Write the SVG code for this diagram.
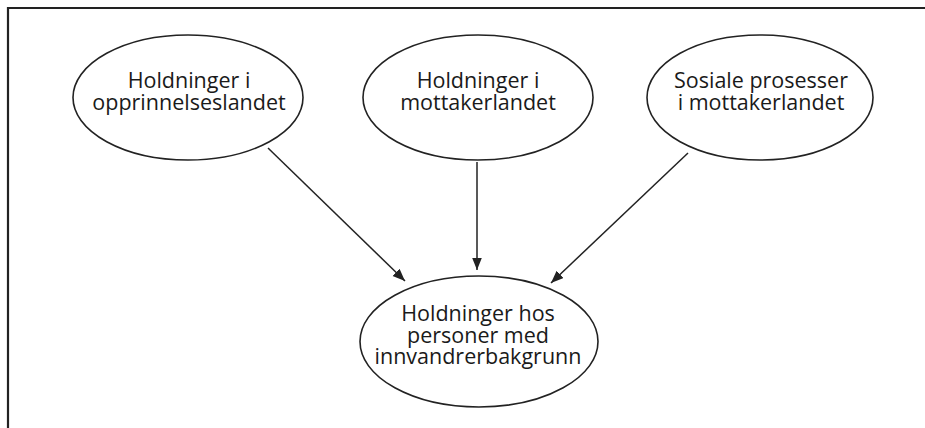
<svg xmlns="http://www.w3.org/2000/svg" width="925" height="428" viewBox="0 0 925 428">
<style>
.node ellipse{fill:#fff;stroke:#222;stroke-width:1.6}
.node text{font-family:"Open Sans","Noto Sans","Liberation Sans",sans-serif;font-size:21.5px;font-weight:500;fill:#1a1a1a;text-anchor:middle}
.edge{stroke:#222;stroke-width:1.5;fill:none;marker-end:url(#ah)}
</style>
<defs>
<marker id="ah" markerUnits="userSpaceOnUse" markerWidth="13" markerHeight="11" refX="12.5" refY="5" orient="auto">
<path d="M0,0 L12.5,5 L0,10 z" fill="#222"/>
</marker>
</defs>
<rect width="925" height="428" fill="#fff"/>
<path d="M8,428 V8 H925" fill="none" stroke="#222" stroke-width="2.2"/>
<g id="n1" class="node">
<ellipse cx="188" cy="97.5" rx="115" ry="62.5"/>
<text x="189" y="88">Holdninger i</text>
<text x="189" y="110">opprinnelseslandet</text>
</g>
<g id="n2" class="node">
<ellipse cx="478" cy="97.5" rx="115" ry="62.5"/>
<text x="478" y="88">Holdninger i</text>
<text x="478" y="110">mottakerlandet</text>
</g>
<g id="n3" class="node">
<ellipse cx="760" cy="97.5" rx="113" ry="62.5"/>
<text x="761" y="88">Sosiale prosesser</text>
<text x="761" y="110">i mottakerlandet</text>
</g>
<g id="n4" class="node">
<ellipse cx="479" cy="341.5" rx="119" ry="65.5"/>
<text x="478" y="321">Holdninger hos</text>
<text x="478" y="342.5">personer med</text>
<text x="478" y="363.5">innvandrerbakgrunn</text>
</g>
<g id="edges">
<line class="edge" x1="268" y1="148" x2="405" y2="281"/>
<line class="edge" x1="477" y1="162" x2="477" y2="270"/>
<line class="edge" x1="688" y1="153" x2="551" y2="283"/>
</g>
</svg>
